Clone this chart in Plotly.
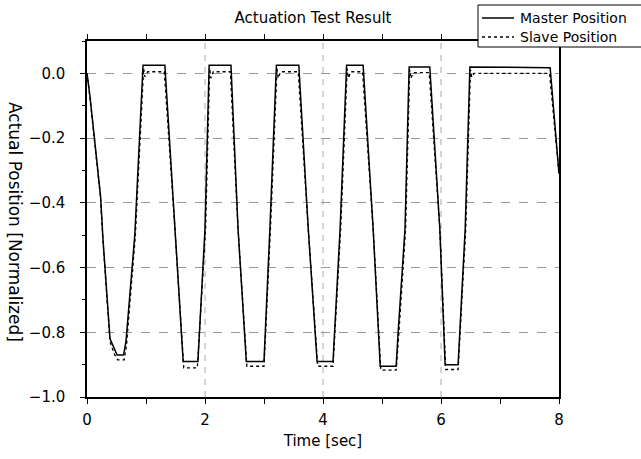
import plotly.graph_objects as go

# Master position (solid)
t_master = [0.00, 0.05, 0.23, 0.27, 0.39, 0.47, 0.51, 0.62,
            0.66, 0.81, 0.95, 1.32,
            1.49, 1.63, 1.88,
            2.00, 2.07, 2.44,
            2.56, 2.70, 3.00,
            3.10, 3.21, 3.59,
            3.75, 3.90, 4.17,
            4.29, 4.40, 4.68,
            4.85, 4.97, 5.24,
            5.27, 5.39, 5.46, 5.81,
            5.98, 6.07, 6.29,
            6.41, 6.49, 7.85,
            7.93, 7.98, 8.00]
y_master = [0.000, -0.070, -0.380, -0.510, -0.820, -0.850, -0.870, -0.870,
            -0.830, -0.500, 0.025, 0.025,
            -0.480, -0.890, -0.890,
            -0.480, 0.025, 0.025,
            -0.480, -0.890, -0.890,
            -0.480, 0.025, 0.025,
            -0.480, -0.890, -0.890,
            -0.480, 0.025, 0.025,
            -0.480, -0.905, -0.905,
            -0.810, -0.480, 0.020, 0.020,
            -0.480, -0.900, -0.900,
            -0.480, 0.020, 0.017,
            -0.170, -0.270, -0.310]

# Slave position (dotted)
t_slave = [0.00, 0.05, 0.23, 0.27, 0.39, 0.47, 0.52, 0.63,
           0.67, 0.82, 0.96, 0.98, 1.03, 1.31,
           1.49, 1.64, 1.87,
           2.01, 2.08, 2.10, 2.14, 2.43,
           2.56, 2.71, 3.00,
           3.11, 3.22, 3.24, 3.28, 3.58,
           3.75, 3.91, 4.17,
           4.30, 4.41, 4.43, 4.47, 4.67,
           4.85, 4.98, 5.24,
           5.28, 5.40, 5.47, 5.49, 5.53, 5.80,
           5.98, 6.08, 6.29,
           6.42, 6.50, 6.52, 6.56, 7.84,
           7.93, 7.98, 8.00]
y_slave = [0.000, -0.075, -0.385, -0.515, -0.830, -0.870, -0.885, -0.885,
           -0.840, -0.500, 0.015, -0.010, 0.005, 0.005,
           -0.480, -0.910, -0.910,
           -0.480, 0.015, -0.015, 0.005, 0.005,
           -0.480, -0.905, -0.905,
           -0.480, 0.015, -0.015, 0.005, 0.005,
           -0.480, -0.905, -0.905,
           -0.480, 0.015, -0.015, 0.005, 0.005,
           -0.480, -0.917, -0.917,
           -0.820, -0.480, 0.012, -0.015, 0.002, 0.002,
           -0.480, -0.915, -0.915,
           -0.480, 0.012, -0.012, 0.000, 0.000,
           -0.170, -0.270, -0.310]

series_names = ["Master Position", "Slave Position"]
x_tick_vals = [0, 1, 2, 3, 4, 5, 6, 7, 8]
x_tick_text = ["0", "", "2", "", "4", "", "6", "", "8"]
x_grid_vals = [2, 4, 6]

FONT = "DejaVu Sans"

W, H = 641, 459
ML, MR, MT, MB = 87, 82, 41, 62
PW, PH = W - ML - MR, H - MT - MB


def px_x(px):
    return (px - ML) / PW


def px_y(py):
    return (H - MB - py) / PH


fig = go.Figure()
fig.add_trace(go.Scatter(x=t_master, y=y_master, mode="lines", name=series_names[0],
                         line=dict(color="black", width=1.5), showlegend=False))
fig.add_trace(go.Scatter(x=t_slave, y=y_slave, mode="lines", name=series_names[1],
                         line=dict(color="black", width=1.3, dash="dot"), showlegend=False))

shapes = []
# vertical dashed grid lines at the labelled times
for gx in x_grid_vals:
    shapes.append(dict(type="line", xref="x", yref="paper", layer="below",
                       x0=gx, x1=gx, y0=0, y1=1,
                       line=dict(color="#aaaaaa", width=1, dash="6px,6px")))
# legend box drawn by hand (box partly cut by the right edge like the original)
shapes += [
    dict(type="rect", xref="paper", yref="paper", layer="above",
         x0=px_x(478), x1=px_x(660), y0=px_y(47), y1=px_y(5),
         fillcolor="white", line=dict(color="black", width=1)),
    dict(type="line", xref="paper", yref="paper", layer="above",
         x0=px_x(482), x1=px_x(514), y0=px_y(18), y1=px_y(18),
         line=dict(color="black", width=1.5)),
    dict(type="line", xref="paper", yref="paper", layer="above",
         x0=px_x(482), x1=px_x(514), y0=px_y(37), y1=px_y(37),
         line=dict(color="black", width=1.3, dash="dot")),
]
annotations = [
    dict(text=series_names[0], xref="paper", yref="paper", x=px_x(518), y=px_y(18),
         xanchor="left", yanchor="middle", showarrow=False, font=dict(size=14)),
    dict(text=series_names[1], xref="paper", yref="paper", x=px_x(518), y=px_y(37),
         xanchor="left", yanchor="middle", showarrow=False, font=dict(size=14)),
    dict(text="Actual Position [Normalized]", xref="paper", yref="paper",
         x=px_x(15), y=px_y(222), xanchor="center", yanchor="middle",
         textangle=90, showarrow=False, font=dict(size=17)),
]

fig.update_layout(
    width=W, height=H,
    margin=dict(l=ML, r=MR, t=MT, b=MB),
    paper_bgcolor="white", plot_bgcolor="white",
    font=dict(family=FONT, color="black", size=14),
    title=dict(text="Actuation Test Result", x=313 / W, xanchor="center",
               y=1 - 18 / H, yanchor="middle", font=dict(size=15)),
    showlegend=False,
    shapes=shapes,
    annotations=annotations,
)

fig.update_xaxes(
    range=[0, 8], tickmode="array", tickvals=x_tick_vals, ticktext=x_tick_text,
    showline=True, linecolor="black", linewidth=1.5, mirror="ticks",
    ticks="outside", ticklen=5, tickwidth=1.2, tickcolor="black",
    showgrid=False, zeroline=False, ticklabelstandoff=3,
    title=dict(text="Time [sec]", font=dict(size=15), standoff=8),
    tickfont=dict(size=15),
)
fig.update_yaxes(
    range=[-1.0, 0.1], tick0=0, dtick=0.2, tickformat=".1f",
    showline=True, linecolor="black", linewidth=1.5, mirror=True,
    ticks="outside", ticklen=5, tickwidth=1.2, tickcolor="black",
    minor=dict(ticks="outside", ticklen=3, tick0=0, dtick=0.1, tickwidth=1.2,
               tickcolor="black", showgrid=False),
    showgrid=True, gridcolor="#999999", griddash="dash", gridwidth=1,
    zeroline=False, ticklabelstandoff=12,
    tickfont=dict(size=15),
)

fig.write_html("out.html")
